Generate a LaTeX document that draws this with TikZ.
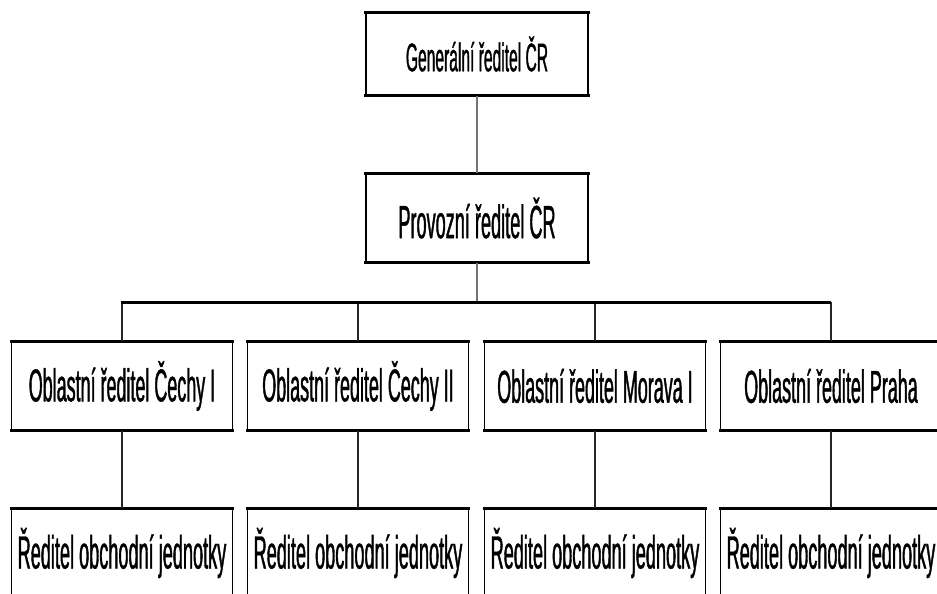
\documentclass[tikz,border=0pt]{standalone}
\usepackage{fontspec}
\setmainfont[FakeStretch=0.39,FakeBold=0.8]{Liberation Sans}
\begin{document}
\begin{tikzpicture}[x=1pt,y=-1pt,
  orgbox/.style={draw=black, line width=1.1pt, fill=white, inner sep=0pt,
    minimum width=221pt, minimum height=88pt, align=center,
    append after command={
      (\tikzlastnode.north west) edge[line width=2.6pt, line cap=rect] (\tikzlastnode.north east)
      (\tikzlastnode.south west) edge[line width=2.6pt, line cap=rect] (\tikzlastnode.south east)}},
  fA/.style={font=\fontsize{40}{44}\selectfont},
  fB/.style={font=\fontsize{46.5}{50}\selectfont},
  fC/.style={font=\fontsize{46}{50}\selectfont},
  fD/.style={font=\fontsize{46.5}{50}\selectfont},
  vline/.style={draw=black!85, line width=1.2pt},
  gline/.style={draw=black!55, line width=1.6pt},
  busline/.style={draw=black, line width=3pt}]
\useasboundingbox (0,0) rectangle (937,594);

\node[orgbox, fA, minimum width=222pt, minimum height=82pt] (gen) at (477,54) {Generální ředitel ČR};
\node[orgbox, fB, minimum width=222pt] (prov) at (477,218) {Provozní ředitel ČR};

\node[orgbox, fC] (o1) at (122,386) {Oblastní ředitel Čechy I};
\node[orgbox, fC] (o2) at (358,386) {Oblastní ředitel Čechy II};
\node[orgbox, fC] (o3) at (595,386) {Oblastní ředitel Morava I};
\node[orgbox, fC] (o4) at (831,386) {Oblastní ředitel Praha};

\node[orgbox, fD] (r1) at (122,553) {Ředitel obchodní jednotky};
\node[orgbox, fD] (r2) at (358,553) {Ředitel obchodní jednotky};
\node[orgbox, fD] (r3) at (595,553) {Ředitel obchodní jednotky};
\node[orgbox, fD] (r4) at (831,553) {Ředitel obchodní jednotky};

\coordinate (busL) at (121,302);
\coordinate (busR) at (831,302);

\draw[gline] (gen) -- (prov);
\draw[gline] (prov) -- (prov |- busL);
\draw[vline] (o1.north) -- (o1.north |- busL);
\draw[vline] (o2.north) -- (o2.north |- busL);
\draw[vline] (o3.north) -- (o3.north |- busL);
\draw[vline] (o4.north) -- (o4.north |- busL);
\draw[busline] (busL) -- (busR);

\draw[vline] (o1) -- (r1);
\draw[vline] (o2) -- (r2);
\draw[vline] (o3) -- (r3);
\draw[vline] (o4) -- (r4);
\end{tikzpicture}
\end{document}
